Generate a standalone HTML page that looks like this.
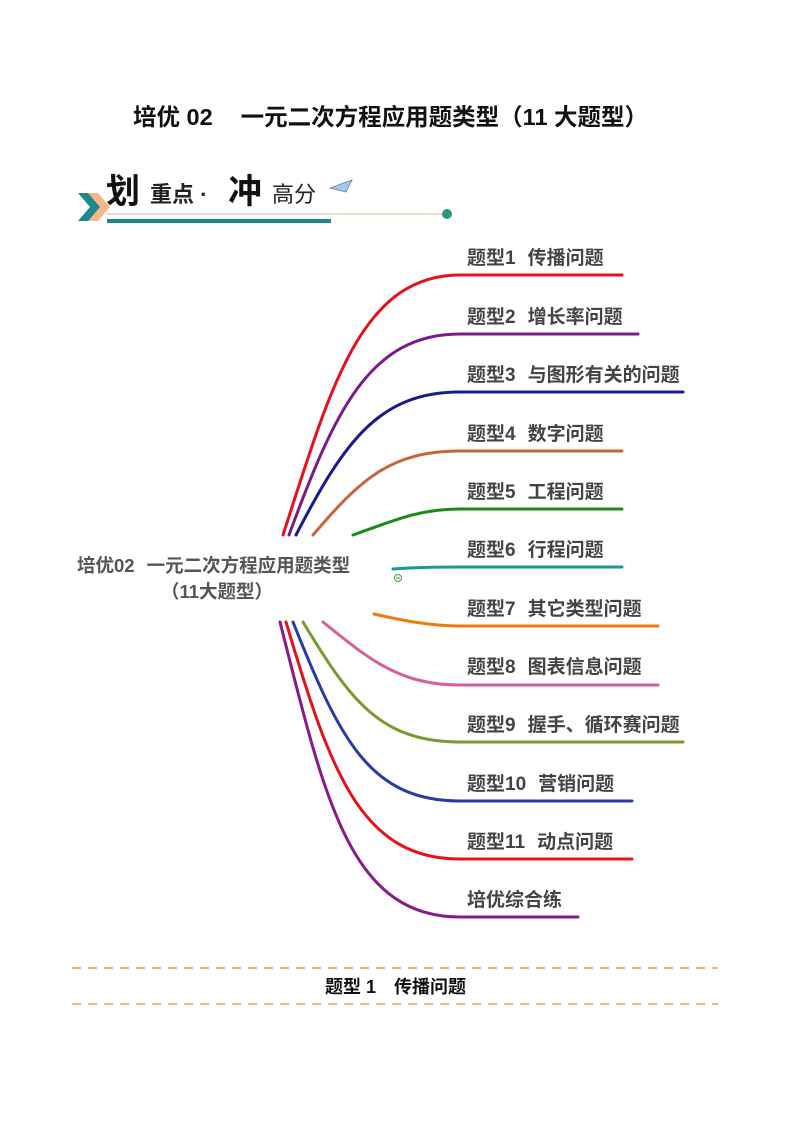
<!DOCTYPE html>
<html><head><meta charset="utf-8"><style>
body{margin:0;background:#fff;}
svg{display:block}
text{font-family:"Liberation Sans","Noto Sans CJK SC",sans-serif;}
</style></head><body>
<svg width="793" height="1122" viewBox="0 0 793 1122" xmlns="http://www.w3.org/2000/svg">
<text x="133" y="125" font-size="23.5" font-weight="bold" fill="#111">培优 02<tspan dx="28">一元二次方程应用题类型（11 大题型）</tspan></text>
<!-- header banner -->
<polygon points="78,193 90,193 102,207 90,221 78,221 90,207" fill="#1a8a8a"/>
<polygon points="88,193 98,193 110,207 98,221 88,221 100,207" fill="#f4b88a"/>
<text x="106" y="203" font-size="34" font-weight="bold" fill="#111" font-family="Noto Serif CJK SC,serif">划</text>
<text x="150" y="202" font-size="22" font-weight="bold" fill="#222">重点 ·</text>
<text x="228" y="203" font-size="34" font-weight="bold" fill="#111" font-family="Noto Serif CJK SC,serif">冲</text>
<text x="272" y="202" font-size="22" fill="#222">高分</text>
<polygon points="330,188 352,180 346,192" fill="#a8c8e8" stroke="#6080b0" stroke-width="0.8"/>
<line x1="106" y1="214" x2="446" y2="214" stroke="#d8b888" stroke-width="1"/>
<circle cx="447" cy="214" r="5" fill="#2a9a7a"/>
<rect x="107" y="219" width="224" height="4" fill="#1a8a8a"/>
<!-- branches -->
<g fill="none" stroke-width="3" stroke-linecap="round">
<path d="M283,535 C330,390 360,275 460,275 L622,275" stroke="#e8101a"/>
<path d="M289,535 C335,410 370,334 460,334 L638,334" stroke="#7b1a8c"/>
<path d="M296,535 C345,440 380,392 460,392 L683,392" stroke="#1a1a8c"/>
<path d="M313,535 C360,480 390,451 460,451 L622,451" stroke="#c8663a"/>
<path d="M353,535 C395,520 420,509 460,509 L622,509" stroke="#1a8a1a"/>
<path d="M393,569 C420,567 440,567 460,567 L622,567" stroke="#1a9a8c"/>
<path d="M374,614 C400,620 430,626 460,626 L658,626" stroke="#f07a10"/>
<path d="M323,622 C370,660 400,685 460,685 L658,685" stroke="#d8609a"/>
<path d="M303,622 C350,700 380,742 460,742 L683,742" stroke="#7a9a30"/>
<path d="M293,622 C340,740 370,801 460,801 L632,801" stroke="#2a3aa8"/>
<path d="M286,622 C330,770 360,859 460,859 L632,859" stroke="#e8101a"/>
<path d="M280,622 C325,800 350,917 460,917 L578,917" stroke="#8a1a8a"/>
</g>
<circle cx="398" cy="578" r="3.5" fill="none" stroke="#4a9a4a" stroke-width="1"/>
<line x1="396" y1="578" x2="400" y2="578" stroke="#4a9a4a" stroke-width="1"/>
<g font-size="19" font-weight="bold" fill="#444">
<text x="467" y="264">题型1<tspan dx="12">传播问题</tspan></text>
<text x="467" y="323">题型2<tspan dx="12">增长率问题</tspan></text>
<text x="467" y="381">题型3<tspan dx="12">与图形有关的问题</tspan></text>
<text x="467" y="440">题型4<tspan dx="12">数字问题</tspan></text>
<text x="467" y="498">题型5<tspan dx="12">工程问题</tspan></text>
<text x="467" y="556">题型6<tspan dx="12">行程问题</tspan></text>
<text x="467" y="615">题型7<tspan dx="12">其它类型问题</tspan></text>
<text x="467" y="673">题型8<tspan dx="12">图表信息问题</tspan></text>
<text x="467" y="731">题型9<tspan dx="12">握手、循环赛问题</tspan></text>
<text x="467" y="790">题型10<tspan dx="12">营销问题</tspan></text>
<text x="467" y="848">题型11<tspan dx="12">动点问题</tspan></text>
<text x="467" y="906">培优综合练</text>
</g>
<text x="77" y="572" font-size="18.5" font-weight="bold" fill="#555">培优02<tspan dx="12">一元二次方程应用题类型</tspan></text>
<text x="217" y="598" text-anchor="middle" font-size="18.5" font-weight="bold" fill="#555">（11大题型）</text>
<line x1="72" y1="968" x2="718" y2="968" stroke="#f0a030" stroke-width="1.5" stroke-dasharray="9,7"/>
<line x1="72" y1="1004" x2="718" y2="1004" stroke="#f0a030" stroke-width="1.5" stroke-dasharray="9,7"/>
<text x="325" y="993" font-size="18" font-weight="bold" fill="#111" font-family="Liberation Serif,Noto Serif CJK SC,serif">题型 1<tspan dx="18">传播问题</tspan></text>
</svg>
</body></html>
